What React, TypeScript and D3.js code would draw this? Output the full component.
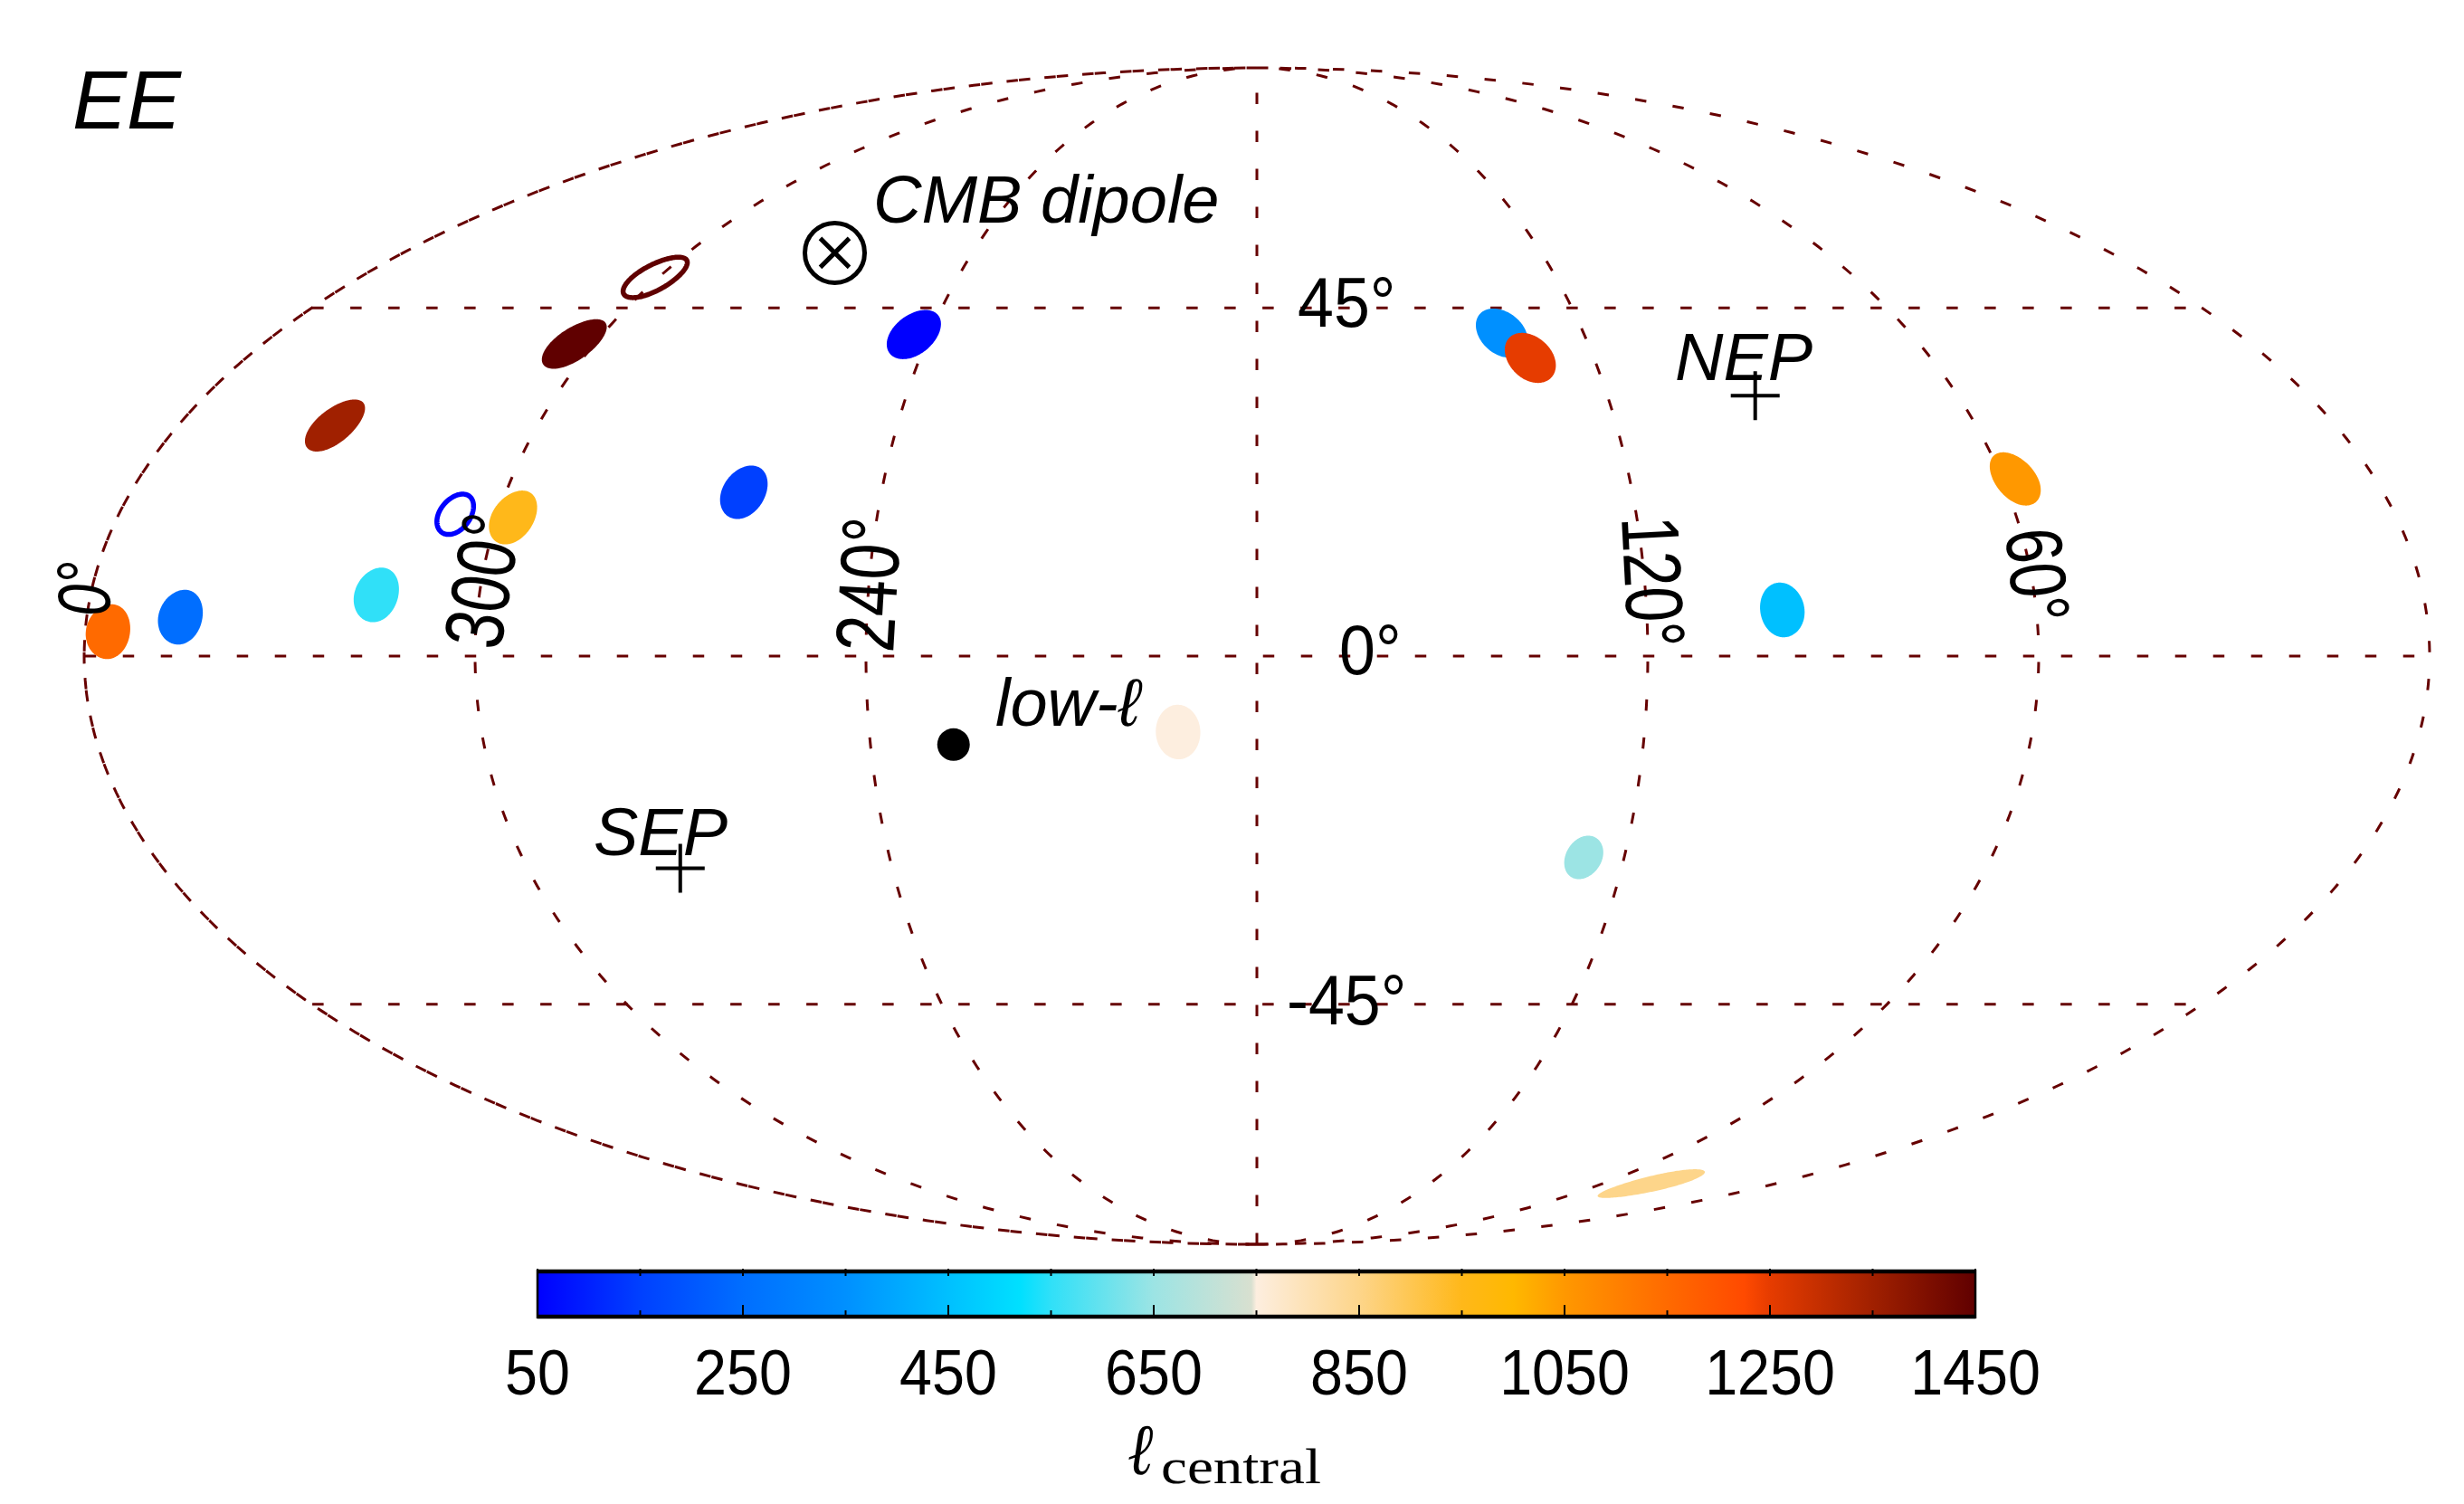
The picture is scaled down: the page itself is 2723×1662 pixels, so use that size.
import React from "react";
import * as d3 from "d3";

// ---- data ----
const spotL = [242.9, 262, 345.6, 135, 99.1, 315.9, 126.6, 192.2, 42.4, 297.5, 57.9, 356.5, 131.3, 333.9, 303.7];
const spotB = [41.3, 20.5, 4.83, 41.5, 5.73, 7.6, -25.3, -9.44, -74, 17.3, 22.2, 3.03, 38.1, 29.1, 40];
const spotR = [3.4, 3.4, 3.4, 3.4, 3.4, 3.4, 2.8, 3.4, 2.85, 3.4, 3.4, 3.4, 3.4, 3.4, 3.4];
const spotEll = [50, 150, 250, 350, 450, 550, 650, 750, 850, 950, 1050, 1150, 1250, 1350, 1450];
const ringL = [306.8, 300.8];
const ringB = [17.7, 49.4];
const ringR = [2.55, 2.95];
const ringEll = [50, 1450];
const meridians = [300, 240, 180, 120, 60];
const parallels = [45, 0, -45];
const colorEll = [50, 150, 250, 350, 450, 520, 550, 650, 745, 750, 850, 950, 1000, 1050, 1150, 1225, 1250, 1350, 1450];
const colorHex = ["#0000ff", "#0040ff", "#006eff", "#0090ff", "#00c0ff", "#00e0ff", "#30e0f8", "#9ce4e4", "#d8e0d0", "#fdeedf", "#fdd58a", "#ffb81a", "#ffb800", "#ff9800", "#ff6a00", "#ff4a00", "#e63c00", "#a02000", "#600000"];
const barTicks = [50, 250, 450, 650, 850, 1050, 1250, 1450];
const minorTicks = [150, 350, 550, 750, 950, 1150, 1350];
const nep: [number, number] = [94.7, 33];
const sep: [number, number] = [274.9, -26.7];
const dipole: [number, number] = [269, 53];
const lowEll: [number, number] = [227.1, -11];

// ---- Mollweide ----
const X_SQUEEZE = 1296 / 1300;
function mollweideRaw(lambda: number, phi: number): [number, number] {
  let t = phi;
  const k = Math.PI * Math.sin(phi);
  if (Math.abs(Math.abs(phi) - Math.PI / 2) > 1e-9) {
    for (let i = 0; i < 30; i++) {
      const d = (2 * t + Math.sin(2 * t) - k) / (2 + 2 * Math.cos(2 * t));
      t -= d;
      if (Math.abs(d) < 1e-9) break;
    }
  }
  return [X_SQUEEZE * (2 * Math.SQRT2 / Math.PI) * lambda * Math.cos(t), Math.SQRT2 * Math.sin(t)];
}
const CX = 1389, CY = 725, HH = 650;
const projection = d3.geoProjection(mollweideRaw as any)
  .scale(HH / Math.SQRT2)
  .translate([CX, CY])
  .precision(0.05);
const geoPath = d3.geoPath(projection);
const lonOf = (l: number) => (l >= 360 ? -179.99 : 180 - l);
const px = (c: [number, number]) => projection([lonOf(c[0]), c[1]]) as [number, number];
const circle = (l: number, b: number, r: number) => d3.geoCircle().center([lonOf(l), b]).radius(r).precision(2)();

const color = d3.scaleLinear<string>().domain(colorEll).range(colorHex).clamp(true);
const barX = d3.scaleLinear().domain([50, 1450]).range([594, 2183]);

const DARK = "#660000";
const SANS = "'Liberation Sans', Arial, sans-serif";
const dash = { fill: "none", stroke: DARK, strokeWidth: 3, strokeDasharray: "12.5 29.5" };

export default function App() {
  const meridianLine = (l: number) => ({
    type: "LineString",
    coordinates: d3.range(-90, 90.5, 1).map((b) => [lonOf(l), b]),
  });
  const parallelLine = (b: number) => ({
    type: "LineString",
    coordinates: d3.range(-179.9, 180, 1).map((lo) => [lo, b]),
  });
  const cross = (c: [number, number], s = 27) => {
    const [x, y] = px(c);
    return `M${x - s},${y}H${x + s}M${x},${y - s}V${y + s}`;
  };
  const [dx, dy] = px(dipole);
  const [lx, ly] = px(lowEll);
  return (
    <svg width={2723} height={1662} viewBox="0 0 2723 1662"
      style={{ position: "absolute", left: 0, top: 0, background: "#fff" }}>
      <defs>
        <linearGradient id="cb" x1="0" x2="1" y1="0" y2="0">
          {colorEll.map((v, i) => (
            <stop key={v} offset={(v - 50) / 1400} stopColor={colorHex[i]} />
          ))}
        </linearGradient>
      </defs>

      {/* graticule: the left edge is drawn twice, as the outline and as longitude 360 */}
      <path d={geoPath({ type: "Sphere" } as any) || ""} {...dash} />
      <path d={geoPath(meridianLine(360) as any) || ""} {...dash} strokeDashoffset={20} />
      {meridians.map((m) => <path key={m} d={geoPath(meridianLine(m) as any) || ""} {...dash} />)}
      {parallels.map((p) => <path key={p} d={geoPath(parallelLine(p) as any) || ""} {...dash} />)}

      {/* spots */}
      {spotL.map((l, i) => (
        <path key={i} d={geoPath(circle(l, spotB[i], spotR[i]) as any) || ""} fill={color(spotEll[i])} />
      ))}
      {ringL.map((l, i) => (
        <path key={i} d={geoPath(circle(l, ringB[i], ringR[i]) as any) || ""} fill="none" stroke={color(ringEll[i])} strokeWidth={5.5} />
      ))}

      {/* markers */}
      <circle cx={lx} cy={ly} r={18} fill="#000" />
      <circle cx={dx} cy={dy} r={33} fill="none" stroke="#000" strokeWidth={5} />
      <path d={`M${dx - 16},${dy - 16}L${dx + 16},${dy + 16}M${dx - 16},${dy + 16}L${dx + 16},${dy - 16}`} stroke="#000" strokeWidth={5} fill="none" />
      <path d={cross(nep)} stroke="#000" strokeWidth={4} fill="none" />
      <path d={cross(sep)} stroke="#000" strokeWidth={4} fill="none" />

      {/* labels */}
      <g fontFamily={SANS} fill="#000">
        <text x={80} y={142} fontSize={90} fontStyle="italic">EE</text>
        <text x={965} y={246} fontSize={74} fontStyle="italic">CMB dipole</text>
        <text x={1851} y={420} fontSize={74} fontStyle="italic">NEP</text>
        <text x={656} y={945} fontSize={74} fontStyle="italic">SEP</text>
        <text x={1100} y={802} fontSize={74} fontStyle="italic">low-ℓ</text>
        <text transform="translate(1434,361) scale(0.92,1)" fontSize={78}>45°</text>
        <text transform="translate(1480,745) scale(0.92,1)" fontSize={78}>0°</text>
        <text transform="translate(1422,1132) scale(0.92,1)" fontSize={78}>-45°</text>
        <text transform="translate(987,722) rotate(-86.6) scale(0.78,1)" fontSize={92}>240°</text>
        <text transform="translate(553,720) rotate(-81) scale(0.78,1)" fontSize={92}>300°</text>
        <text transform="translate(122,680) rotate(-92) scale(0.78,1)" fontSize={82} fontStyle="italic">0°</text>
        <text transform="translate(1792,572) rotate(87) scale(0.78,1)" fontSize={90}>120°</text>
        <text transform="translate(2216,587) rotate(84) scale(0.78,1)" fontSize={88}>60°</text>
      </g>

      {/* colour bar */}
      <rect x={594} y={1405} width={1589} height={50} fill="url(#cb)" />
      {barTicks.map((v) => (
        <g key={v}>
          <line x1={barX(v)} x2={barX(v)} y1={1453} y2={1442} stroke="#000" strokeWidth={2} />
          <line x1={barX(v)} x2={barX(v)} y1={1402} y2={1410} stroke="#000" strokeWidth={2} />
        </g>
      ))}
      {minorTicks.map((v) => (
        <g key={v}>
          <line x1={barX(v)} x2={barX(v)} y1={1453} y2={1448} stroke="#000" strokeWidth={2} />
          <line x1={barX(v)} x2={barX(v)} y1={1402} y2={1410} stroke="#000" strokeWidth={2} />
        </g>
      ))}
      <line x1={594} x2={2183} y1={1405} y2={1405} stroke="#000" strokeWidth={4.5} />
      <line x1={594} x2={2183} y1={1455} y2={1455} stroke="#000" strokeWidth={4.5} />
      <line x1={594} x2={594} y1={1403} y2={1457} stroke="#000" strokeWidth={2.5} />
      <line x1={2183} x2={2183} y1={1403} y2={1457} stroke="#000" strokeWidth={2.5} />
      {barTicks.map((v) => (
        <text key={v} transform={`translate(${barX(v)},1541) scale(0.91,1)`} textAnchor="middle" fontFamily={SANS} fontSize={71}>{v}</text>
      ))}
      <text transform="translate(1246,1629) scale(0.85,1)" fontFamily="'Liberation Serif', serif" fontSize={80} fontStyle="italic">ℓ</text>
      <text x={1283} y={1639} fontFamily="'Liberation Serif', serif" fontSize={54} textLength={177} lengthAdjust="spacingAndGlyphs">central</text>
    </svg>
  );
}
